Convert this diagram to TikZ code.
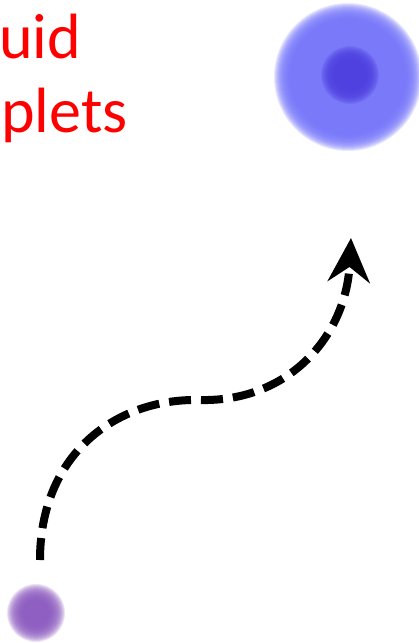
\documentclass[tikz,border=0pt]{standalone}
\usepackage{fontspec}
\setmainfont{Carlito}
\usetikzlibrary{arrows.meta}
\definecolor{dropblue}{HTML}{7474FA}
\definecolor{coreblue}{HTML}{4E3FE0}
\definecolor{droppurple}{HTML}{8A58BE}
\tikzset{
  label text/.style={text=red,inner sep=0pt,font=\fontsize{64}{76}\selectfont},
  path arrow/.style={line width=8pt,dash pattern=on 22pt off 10pt,
    -{Stealth[length=44pt,width=42pt,inset=15pt]}},
}
% soft (blurred) disc: centre, radius, colour
\newcommand\softdisc[3]{%
  \foreach \dr in {-8,-7,...,8}
    \fill[#3,opacity=0.17] (#1) circle ({#2+\dr});}
\begin{document}
\begin{tikzpicture}[x=1pt,y=-1pt]
\useasboundingbox (0,0) rectangle (419,643);
% text, at the left border
\node[label text,anchor=base west] (liq) at (-1,58) {uid};
\node[label text,anchor=base west] (drop) at (1,132) {plets};
% big droplet
\coordinate (big) at (348,77);
\softdisc{big}{66}{dropblue}
\softdisc{350,75}{21}{coreblue}
% small droplet
\coordinate (small) at (36,613);
\softdisc{small}{21}{droppurple}
% path of the droplet
\coordinate (start) at (40,560);
\coordinate (mid) at (200,400);
\coordinate (tip) at (351,238);
\draw[path arrow] (start) .. controls (40,455) and (115,398) .. (mid)
  .. controls (290,402) and (346,335) .. (tip);
\end{tikzpicture}
\end{document}
